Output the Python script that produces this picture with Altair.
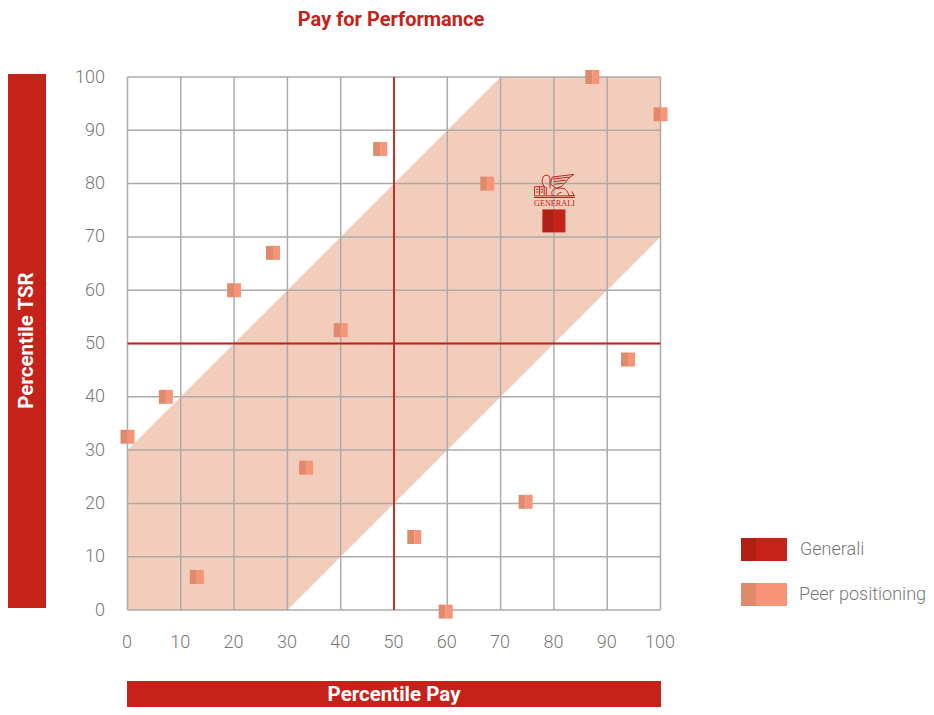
import altair as alt
import pandas as pd

peer_x = [0, 7.2, 13, 20, 27.3, 33.5, 40, 47.4, 53.8, 59.7, 67.5, 74.7, 87.2, 93.9, 100]
peer_y = [32.5, 40, 6.2, 60, 67, 26.7, 52.5, 86.5, 13.7, -0.3, 80, 20.3, 100, 47, 93]
gen_x = [80]
gen_y = [73]
band_x = [0, 30, 70, 100]
band_lo = [0, 0, 40, 70]
band_hi = [30, 60, 100, 100]
ticks = list(range(0, 101, 10))

FONT = "Roboto"
RED = "#c5221a"
GRID = "#aeaaa8"
W = H = 533
L, T = 119.5, 69
CANVAS_W, CANVAS_H = 918, 699

LEFT = "M-1,-1H0V1H-1Z"
RIGHT = "M0,-1H1V1H0Z"
LION = ("M-1,0.55H1 M-1,0.47H0.97 "
        "M-0.97,0.42V0.02H-0.5V0.42 M-0.73,0.02V0.42 M-0.9,0.15H-0.78 M-0.9,0.28H-0.78 M-0.68,0.15H-0.55 M-0.68,0.28H-0.55 "
        "M-0.35,0.1C-0.6,0 -0.65,-0.25 -0.55,-0.45C-0.45,-0.6 -0.25,-0.55 -0.22,-0.4C-0.2,-0.2 -0.25,-0.05 -0.2,0.1 "
        "M-0.2,-0.1L-0.1,-0.45L0.95,-0.58L0.65,-0.35L0.55,-0.2L0.35,0L0.1,0.1L-0.2,-0.1 "
        "M-0.05,-0.35L0.75,-0.45 M-0.02,-0.22L0.55,-0.3 M0,-0.1L0.45,-0.15 "
        "M-0.4,0.45V0.1 M-0.1,0.45C-0.2,0.25 -0.05,0.1 0.2,0.1C0.5,0.05 0.65,0.2 0.7,0.45 "
        "M0.15,0.45C0.15,0.35 0.25,0.3 0.35,0.3 M0.7,0.45L0.97,0.45L0.85,0.25")

def axis(**kw):
    return alt.Axis(values=ticks, tickSize=0, labelFontSize=18, labelFont=FONT,
                    labelFontWeight=300, labelColor="#777777", grid=False, domain=False,
                    labelFlush=False, labelOverlap=False, **kw)

x = alt.X("x:Q", scale=alt.Scale(domain=[0, 100], nice=False), title=None, axis=axis(labelPadding=23, labelOffset=-1))
y = alt.Y("y:Q", scale=alt.Scale(domain=[0, 100], nice=False), title=None, axis=axis(labelPadding=23))

band = alt.Chart(pd.DataFrame({"x": band_x, "y": band_lo, "y2": band_hi})).mark_area(
    color="#f2cdbc", opacity=1, clip=False).encode(x=x, y=y, y2="y2:Q")

grid_v = alt.Chart(pd.DataFrame({"x": ticks})).mark_rule(color=GRID, strokeWidth=1.5).encode(x=x)
grid_h = alt.Chart(pd.DataFrame({"y": ticks})).mark_rule(color=GRID, strokeWidth=1.5).encode(y=y)

v_rule = alt.Chart(pd.DataFrame({"x": [50]})).mark_rule(color=RED, strokeWidth=1.8).encode(x=x)
h_rule = alt.Chart(pd.DataFrame({"y": [50]})).mark_rule(color=RED, strokeWidth=1.8).encode(y=y)

peers = pd.DataFrame({"x": peer_x, "y": peer_y})
def squares(df, size, dark, light):
    a = alt.Chart(df).mark_point(shape=LEFT, size=size, filled=True, fill=dark, strokeWidth=0, opacity=1, clip=False).encode(x=x, y=y)
    b = alt.Chart(df).mark_point(shape=RIGHT, size=size, filled=True, fill=light, strokeWidth=0, opacity=1, clip=False).encode(x=x, y=y)
    return a + b

peer_marks = squares(peers, 196, "#e08a6c", "#f79478")
gen_marks = squares(pd.DataFrame({"x": gen_x, "y": gen_y}), 529, "#b01f16", RED)

logo = alt.Chart(pd.DataFrame({"x": [80.1], "y": [79.5]})).mark_point(
    shape=LION, size=1681, filled=False, color=RED, strokeWidth=1, opacity=1).encode(x=x, y=y)
logo_text = alt.Chart(pd.DataFrame({"x": [80.1], "y": [76.2], "t": ["GENERALI"]})).mark_text(
    font="Liberation Serif", fontSize=8.2, color=RED, align="center", baseline="middle").encode(x=x, y=y, text="t:N")

def box(x0, x1, y0, y1, color):
    return alt.Chart(pd.DataFrame({"k": [0]})).mark_rect(color=color, clip=False).encode(
        x=alt.value(x0 - 8 - L), x2=alt.value(x1 - 8 - L), y=alt.value(y0 - 8 - T), y2=alt.value(y1 - 8 - T))

def label(s, px, py, size, color, bold=False, angle=0, align="center"):
    return alt.Chart(pd.DataFrame({"t": [s]})).mark_text(
        font=FONT, fontSize=size, color=color, fontWeight="bold" if bold else 300,
        angle=angle, align=align, baseline="middle").encode(
        x=alt.value(px - 8 - L), y=alt.value(py - 8 - T), text="t:N")

deco = [
    box(8, 46, 74, 608, RED),
    box(127, 661, 681, 707, RED),
    box(741, 756, 538, 561, "#b01f16"),
    box(756, 787, 538, 561, RED),
    box(741, 756, 583, 606, "#e08a6c"),
    box(756, 787, 583, 606, "#f79478"),
    label("Pay for Performance", 391, 20, 20, RED, True),
    label("Percentile TSR", 27, 340.5, 20.5, "white", True, angle=270),
    label("Percentile Pay", 394, 695, 20.5, "white", True),
    label("Generali", 800, 550, 18, "#777777", align="left"),
    label("Peer positioning", 799, 595, 18, "#777777", align="left"),
]

chart = alt.layer(
    band, grid_v, grid_h, v_rule, h_rule, peer_marks, gen_marks, logo, logo_text, *deco
).properties(
    width=W, height=H,
    padding={"left": L, "top": T, "right": CANVAS_W - L - W, "bottom": CANVAS_H - T - H},
    autosize=alt.AutoSizeParams(type="none"),
).configure_view(stroke=None)

chart.save("out.html", embed_options={"renderer": "svg", "actions": False})
